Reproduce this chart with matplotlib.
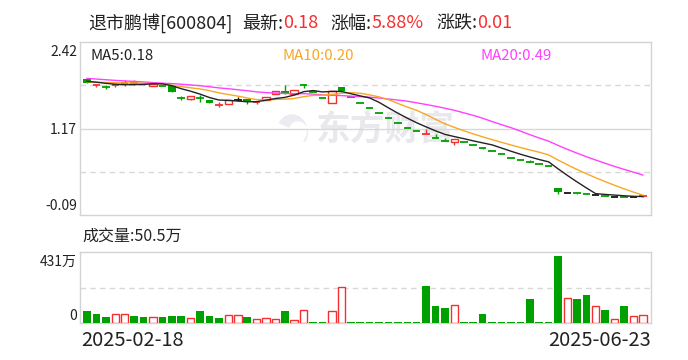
import matplotlib
matplotlib.use('Agg')
import matplotlib.pyplot as plt
import numpy as np
import pandas as pd

plt.rcParams['font.family'] = ['Noto Sans CJK SC', 'DejaVu Sans']

# 日K数据 (2025-02-18 ~ 2025-06-23)
opens = [1.887, 1.804, 1.77, 1.795, 1.828, 1.828, 1.818, 1.78, 1.79, 1.78,
         1.61, 1.60, 1.606, 1.58, 1.513, 1.528, 1.586, 1.596, 1.548, 1.577,
         1.669, 1.708, 1.669, 1.795, 1.70, 1.61, 1.538, 1.77, 1.631, 1.54,
         1.461, 1.388, 1.315, 1.243, 1.18, 1.126, 1.087, 1.03, 0.985, 0.965,
         0.975, 0.927, 0.884, 0.84, 0.79, 0.745, 0.71, 0.685, 0.651, 0.622,
         0.307, 0.225, 0.225, 0.21, 0.20, 0.186, 0.176, 0.176, 0.17, 0.175]
highs = [1.887, 1.804, 1.804, 1.81, 1.872, 1.872, 1.835, 1.818, 1.79, 1.78,
         1.64, 1.635, 1.654, 1.58, 1.548, 1.586, 1.62, 1.596, 1.563, 1.62,
         1.708, 1.804, 1.72, 1.81, 1.70, 1.61, 1.708, 1.77, 1.631, 1.54,
         1.461, 1.388, 1.315, 1.243, 1.18, 1.126, 1.16, 1.09, 1.03, 1.02,
         0.975, 0.927, 0.90, 0.84, 0.79, 0.745, 0.71, 0.715, 0.651, 0.622,
         0.307, 0.225, 0.225, 0.21, 0.20, 0.186, 0.176, 0.176, 0.17, 0.18]
lows = [1.824, 1.77, 1.745, 1.77, 1.79, 1.80, 1.805, 1.78, 1.79, 1.693,
        1.58, 1.58, 1.557, 1.542, 1.475, 1.528, 1.563, 1.523, 1.525, 1.577,
        1.669, 1.669, 1.669, 1.755, 1.70, 1.61, 1.538, 1.695, 1.631, 1.54,
        1.461, 1.388, 1.315, 1.243, 1.18, 1.126, 1.087, 1.03, 0.985, 0.927,
        0.975, 0.927, 0.866, 0.84, 0.79, 0.745, 0.71, 0.685, 0.651, 0.622,
        0.215, 0.225, 0.215, 0.21, 0.20, 0.186, 0.176, 0.176, 0.17, 0.175]
closes = [1.824, 1.804, 1.77, 1.795, 1.828, 1.828, 1.818, 1.818, 1.79, 1.693,
          1.61, 1.635, 1.606, 1.542, 1.513, 1.586, 1.586, 1.552, 1.548, 1.62,
          1.708, 1.669, 1.72, 1.795, 1.70, 1.61, 1.708, 1.717, 1.631, 1.54,
          1.461, 1.388, 1.315, 1.243, 1.18, 1.126, 1.087, 1.03, 0.985, 1.02,
          0.975, 0.927, 0.884, 0.84, 0.79, 0.745, 0.71, 0.685, 0.651, 0.622,
          0.24, 0.225, 0.225, 0.21, 0.20, 0.186, 0.176, 0.176, 0.17, 0.18]
candle_colors = list('grgrrrgrgg' + 'grggrrkgrr' + 'rgrgggrggg' + 'ggggggrggr'
                     + 'gggggggggg' + 'gkggkgkgkr')
# 成交量(万)
volumes = [78, 58, 43, 62, 62, 50, 43, 41, 43, 50,
           50, 34, 82, 50, 37, 56, 56, 43, 28, 34,
           28, 82, 22, 86, 6, 6, 80, 235, 6, 6,
           6, 6, 6, 6, 6, 6, 237, 114, 95, 118,
           6, 6, 62, 6, 6, 6, 6, 153, 6, 6,
           431, 164, 153, 179, 112, 88, 28, 108, 47, 50.5]
vol_colors = list('gggrrggrgg' + 'grgggrrgrr' + 'rgrrggrrgg' + 'gggggggggr'
                  + 'gggggggggg' + 'grggrgrgrr')
# 区间之前的收盘价(用于均线)
prior_closes = [1.99, 1.97, 1.98, 1.99, 1.97, 1.98, 1.99, 1.97, 1.81, 1.79,
                1.85, 1.83, 1.84, 1.85, 1.83, 1.87, 1.85, 1.86, 1.86]
dates = ['2025-02-18', '2025-06-23']

RED = '#f52f2f'
GREEN = '#00a000'
cmap = {'r': RED, 'g': GREEN, 'k': '#141414'}

s = pd.Series(prior_closes + closes)
n0 = len(prior_closes)
ma5 = s.rolling(5).mean().iloc[n0:].values
ma10 = s.rolling(10).mean().iloc[n0:].values
ma20 = s.rolling(20).mean().iloc[n0:].values

W, H = 688, 360
fig = plt.figure(figsize=(6.88, 3.6), dpi=100)


def box(l, t, r, b):
    return [l / W, 1 - b / H, (r - l) / W, (b - t) / H]


ax1 = fig.add_axes(box(80, 42.3, 651, 215))
ax2 = fig.add_axes(box(80, 251.7, 651, 323.3))

x = np.arange(len(closes))
xl = (-0.745, 59.87)

# 水印
ax1.text(0.535, 0.5, '东方财富', transform=ax1.transAxes, fontsize=25,
         fontweight='bold', color='#e9e9ed', ha='center', va='center', zorder=0)
t = np.linspace(0, 1, 30)
ox = 292 - 15 * np.cos(np.pi * (0.15 + 1.1 * t))
oy = 127 - 16 * np.sin(np.pi * (0.15 + 1.1 * t)) * -1
ix = 298 - 10 * np.cos(np.pi * (0.15 + 1.1 * t[::-1]))
iy = 124 - 12 * np.sin(np.pi * (0.15 + 1.1 * t[::-1])) * -1
lx = (np.r_[ox, ix] - 80) / 571
ly = (215 - np.r_[oy, iy]) / 172.7
ax1.fill(lx, 1 - ly + 0.0, color='#ececf0', transform=ax1.transAxes, zorder=0, lw=0)

for ax in (ax1, ax2):
    ax.set_xlim(*xl)
    ax.set_xticks([])
    ax.set_yticks([])
    for sp in ax.spines.values():
        sp.set_color('#d3d3d3')
        sp.set_linewidth(1)

lo_p, hi_p = -0.09, 2.42
ax1.set_ylim(lo_p, hi_p)
span = hi_p - lo_p
ax1.axhline(lo_p + span / 2, color='#d8d8d8', lw=1, zorder=1)
for q in (0.25, 0.75):
    ax1.axhline(lo_p + span * q, color='#d8d8d8', lw=1, ls=(0, (4, 3)), zorder=1)

# K线
for i in x:
    o, h, l, c = opens[i], highs[i], lows[i], closes[i]
    col = cmap[candle_colors[i]]
    ax1.vlines(i, l, h, color=col, lw=1, zorder=3)
    b0, b1 = min(o, c), max(o, c)
    if b1 - b0 < 0.006:
        ax1.hlines(c, i - 0.4, i + 0.4, color=col, lw=1.3, zorder=4)
    elif candle_colors[i] == 'r':
        ax1.bar(i, b1 - b0, 0.8, b0, facecolor='white', edgecolor=col, lw=1, zorder=4)
    else:
        ax1.bar(i, b1 - b0, 0.8, b0, color=col, lw=0, zorder=4)

ax1.plot(x, ma20, color='#ff40ff', lw=1, zorder=5)
ax1.plot(x, ma10, color='#f7a823', lw=1, zorder=5)
ax1.plot(x, ma5, color='#222222', lw=1, zorder=6)

# 成交量
vmax = 459
ax2.set_ylim(0, vmax)
ax2.axhline(vmax / 2, color='#d8d8d8', lw=1, ls=(0, (4, 3)), zorder=1)
for i in x:
    col = cmap[vol_colors[i]]
    if vol_colors[i] == 'r':
        ax2.bar(i, volumes[i], 0.8, facecolor='white', edgecolor=col, lw=1, zorder=3)
    else:
        ax2.bar(i, volumes[i], 0.8, color=col, lw=0, zorder=3)

TXT = '#222222'


def fy(py):
    return 1 - py / H


def parts(px, py, items, size):
    r = fig.canvas.get_renderer()
    for s_, c_, gap in items:
        px += gap
        tx = fig.text(px / W, fy(py), s_, color=c_, fontsize=size, va='baseline', ha='left')
        bb = tx.get_window_extent(renderer=r)
        px = bb.x1


parts(88, 28.5, [('退市鹏博[600804]', TXT, 0), ('最新:', TXT, 10), ('0.18', RED, 0),
                 ('涨幅:', TXT, 12), ('5.88%', RED, 0), ('涨跌:', TXT, 12), ('0.01', RED, 0)], 13)

fig.text(90 / W, fy(56), 'MA5:%.2f' % ma5[-1], color='#222222', fontsize=10.8, va='center')
fig.text(283 / W, fy(56), 'MA10:%.2f' % ma10[-1], color='#f7a823', fontsize=10.8, va='center')
fig.text(480 / W, fy(56), 'MA20:%.2f' % ma20[-1], color='#ff40ff', fontsize=10.8, va='center')

for lab, py in (('%.2f' % hi_p, 51.7), ('%.2f' % ((hi_p + lo_p) / 2 + 0.005), 130),
                ('%.2f' % lo_p, 205.7)):
    fig.text(77 / W, fy(py), lab, color=TXT, fontsize=10, ha='right', va='center')

fig.text(82 / W, fy(236), '成交量:%.1f万' % volumes[-1], color=TXT, fontsize=11.5, va='center')
fig.text(77 / W, fy(262), '%d万' % max(volumes), color=TXT, fontsize=10, ha='right', va='center')
fig.text(77 / W, fy(316), '0', color=TXT, fontsize=10, ha='right', va='center')

fig.text(81 / W, fy(340), dates[0], color=TXT, fontsize=14.4, ha='left', va='center')
fig.text(651 / W, fy(340), dates[1], color=TXT, fontsize=14.4, ha='right', va='center')

fig.savefig('out.png', dpi=100, facecolor='white')
